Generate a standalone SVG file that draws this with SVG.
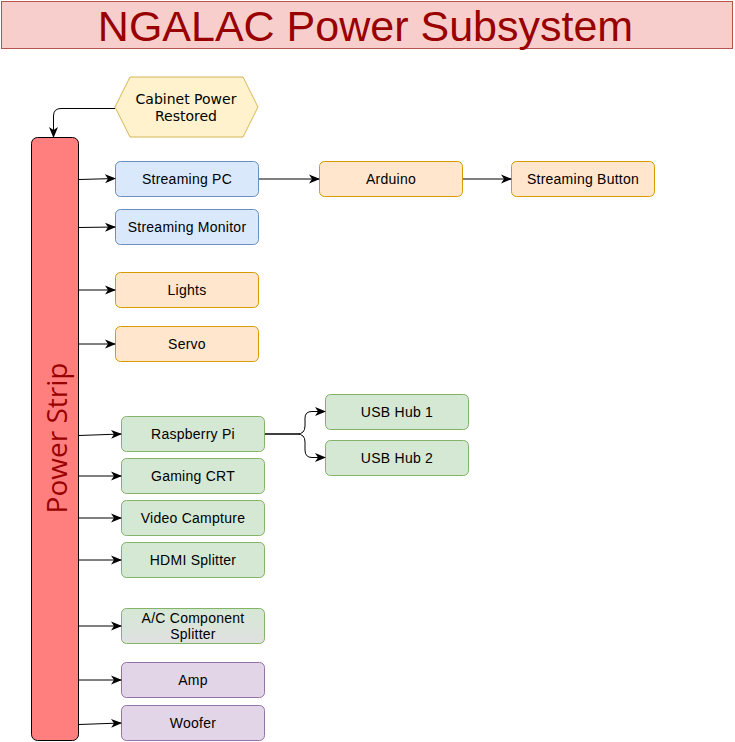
<svg xmlns="http://www.w3.org/2000/svg" width="735" height="742" viewBox="0 0 735 742">
<defs>
<style>
.lbl{font-family:"Liberation Sans",Arial,sans-serif;font-size:14px;letter-spacing:0.25px;fill:#000;text-anchor:middle;dominant-baseline:central}
.blue{fill:#dae8fc;stroke:#6c8ebf;stroke-width:1}
.orange{fill:#ffe6cc;stroke:#d79b00;stroke-width:1}
.green{fill:#d5e8d4;stroke:#82b366;stroke-width:1}
.purple{fill:#e1d5e7;stroke:#9673a6;stroke-width:1}
.edge{fill:none;stroke:#000;stroke-width:1;marker-end:url(#arr)}
</style>
<marker id="arr" markerWidth="12" markerHeight="12" refX="10" refY="6" orient="auto" markerUnits="userSpaceOnUse">
<path d="M0,1.5 L11,6 L0,10.5 L3,6 Z" fill="#000"/>
</marker>
<linearGradient id="acg" x1="0" y1="0" x2="0" y2="1">
<stop offset="0" stop-color="#d5e8d4"/>
<stop offset="1" stop-color="#e0e0e0"/>
</linearGradient>
</defs>
<rect width="735" height="742" fill="#fff"/>
<g id="title">
<rect x="1.5" y="1.5" width="731" height="47" fill="#f8cecc" stroke="#b85450"/>
<text x="365.5" y="26" font-family="Liberation Sans,Arial,sans-serif" font-size="43" fill="#990000" text-anchor="middle" dominant-baseline="central">NGALAC Power Subsystem</text>
</g>
<g id="cabinet-power">
<polygon points="115,107 130,77 243,77 258,107 243,137 130,137" fill="#fff2cc" stroke="#d6b656"/>
<text x="186" y="99" font-family="DejaVu Sans,sans-serif" font-size="14" text-anchor="middle" dominant-baseline="central">Cabinet Power</text>
<text x="186" y="116" font-family="DejaVu Sans,sans-serif" font-size="14" text-anchor="middle" dominant-baseline="central">Restored</text>
</g>
<g id="power-strip">
<rect x="31.5" y="137.5" width="47" height="603" rx="6" fill="#ff7f7f" stroke="#000"/>
<text transform="translate(56,438) rotate(-90)" font-family="Open Sans,sans-serif" font-size="28" fill="#990000" text-anchor="middle" dominant-baseline="central">Power Strip</text>
</g>
<g id="streaming-pc"><rect class="blue" x="115.5" y="161.5" width="143" height="35" rx="5"/><text class="lbl" x="187" y="179">Streaming PC</text></g>
<g id="streaming-monitor"><rect class="blue" x="115.5" y="209.5" width="143" height="35" rx="5"/><text class="lbl" x="187" y="227">Streaming Monitor</text></g>
<g id="lights"><rect class="orange" x="115.5" y="272.5" width="143" height="35" rx="5"/><text class="lbl" x="187" y="289.5">Lights</text></g>
<g id="servo"><rect class="orange" x="115.5" y="326.5" width="143" height="35" rx="5"/><text class="lbl" x="187" y="343.5">Servo</text></g>
<g id="arduino"><rect class="orange" x="319.5" y="161.5" width="143" height="35" rx="5"/><text class="lbl" x="391" y="179">Arduino</text></g>
<g id="streaming-button"><rect class="orange" x="511.5" y="161.5" width="143" height="35" rx="5"/><text class="lbl" x="583" y="179">Streaming Button</text></g>
<g id="raspberry-pi"><rect class="green" x="121.5" y="416.5" width="143" height="35" rx="5"/><text class="lbl" x="193" y="433.5">Raspberry Pi</text></g>
<g id="gaming-crt"><rect class="green" x="121.5" y="458.5" width="143" height="35" rx="5"/><text class="lbl" x="193" y="475.5">Gaming CRT</text></g>
<g id="video-capture"><rect class="green" x="121.5" y="500.5" width="143" height="35" rx="5"/><text class="lbl" x="193" y="517.5">Video Campture</text></g>
<g id="hdmi-splitter"><rect class="green" x="121.5" y="542.5" width="143" height="35" rx="5"/><text class="lbl" x="193" y="559.5">HDMI Splitter</text></g>
<g id="ac-splitter"><rect x="121.5" y="608.5" width="143" height="35" rx="5" fill="url(#acg)" stroke="#82b366"/><text class="lbl" x="193" y="617.5">A/C Component</text><text class="lbl" x="193" y="633.5">Splitter</text></g>
<g id="amp"><rect class="purple" x="121.5" y="662.5" width="143" height="35" rx="5"/><text class="lbl" x="193" y="679.5">Amp</text></g>
<g id="woofer"><rect class="purple" x="121.5" y="705.5" width="143" height="35" rx="5"/><text class="lbl" x="193" y="722.5">Woofer</text></g>
<g id="usb-hub-1"><rect class="green" x="325.5" y="394.5" width="143" height="35" rx="5"/><text class="lbl" x="397" y="411.5">USB Hub 1</text></g>
<g id="usb-hub-2"><rect class="green" x="325.5" y="440.5" width="143" height="35" rx="5"/><text class="lbl" x="397" y="457.5">USB Hub 2</text></g>
<g id="connectors">
<path class="edge" d="M115,108.5 L61,108.5 Q53.5,108.5 53.5,116 L53.5,137"/>
<path class="edge" d="M79,179.5 L115,178.5"/>
<path class="edge" d="M79,227.5 L115,227"/>
<path class="edge" d="M79,290 L115,290"/>
<path class="edge" d="M79,344 L115,344"/>
<path class="edge" d="M259,179 L319,179"/>
<path class="edge" d="M463,179 L511,179"/>
<path class="edge" d="M79,435.5 L121,434"/>
<path class="edge" d="M79,476 L121,476"/>
<path class="edge" d="M79,518 L121,518"/>
<path class="edge" d="M79,560 L121,560"/>
<path class="edge" d="M79,626 L121,626"/>
<path class="edge" d="M79,680 L121,680"/>
<path class="edge" d="M79,724.5 L121,723"/>
<path class="edge" d="M265,434 L297,434 Q305,434 305,426 L305,418 Q305,411.5 312,411.5 L325,411.5"/>
<path class="edge" d="M265,434 L297,434 Q305,434 305,442 L305,450 Q305,457.5 312,457.5 L325,457.5"/>
</g>
</svg>
